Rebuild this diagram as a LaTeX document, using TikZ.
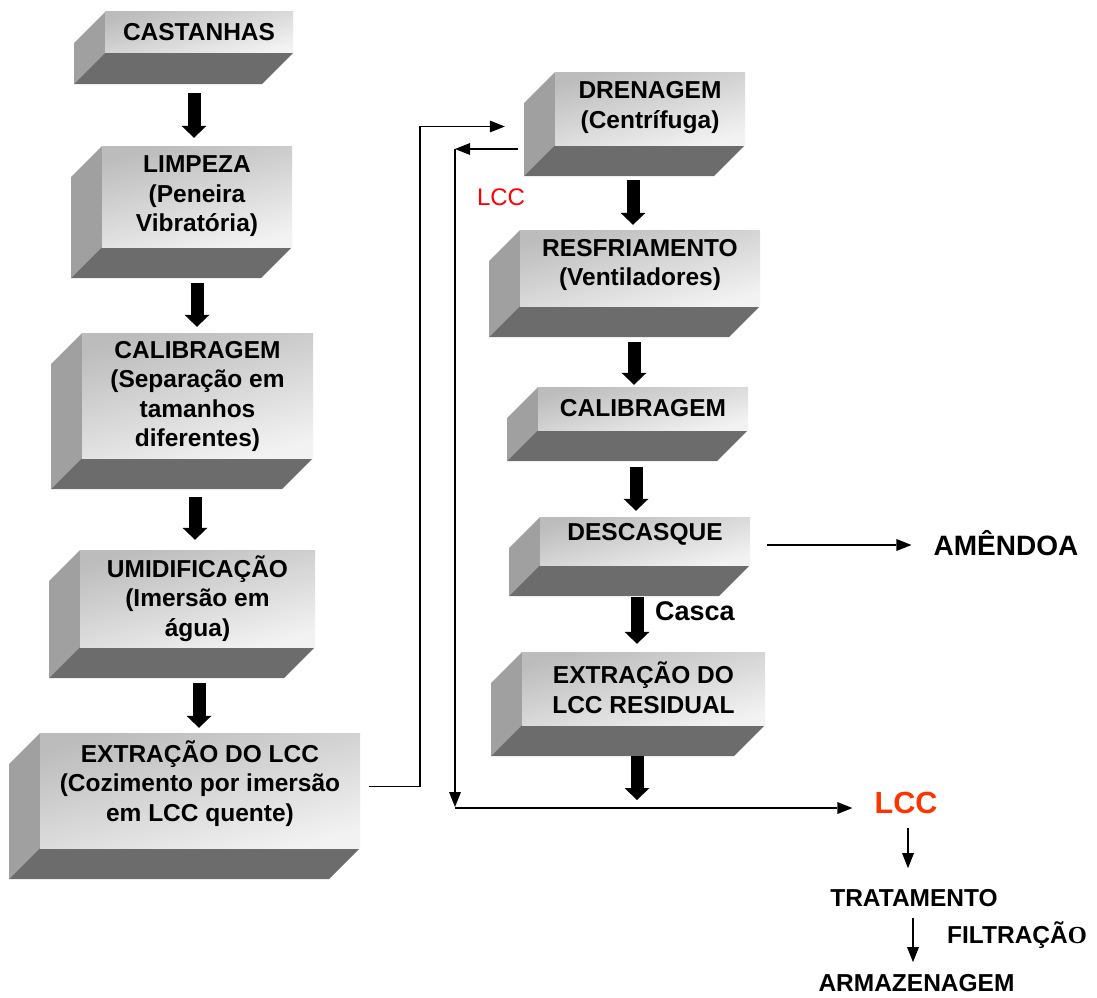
\documentclass[tikz,border=0pt]{standalone}
\usepackage{fontspec}
\setmainfont{Liberation Sans}
\newfontfamily\serifO{Liberation Serif}
\usetikzlibrary{arrows.meta,calc}
\definecolor{lccred}{RGB}{255,51,0}
\definecolor{leftgray}{RGB}{160,160,160}
\definecolor{botgray}{RGB}{108,108,108}
\definecolor{fronttop}{RGB}{188,188,188}
\definecolor{frontbot}{RGB}{242,242,242}
\tikzset{
  leftface/.style={fill=leftgray},
  botface/.style={fill=botgray},
  frontshade/.style={top color=fronttop, bottom color=frontbot, shading angle=15},
  frontbox/.style={draw=none, inner sep=0pt, rectangle},
  boxtext/.style={font=\fontsize{24.5}{29.5}\selectfont\bfseries, align=center, inner sep=0pt},
  plaintext/.style={font=\fontsize{24.5}{29.5}\selectfont\bfseries, inner sep=0pt},
  bigarrow/.style={line width=13pt, -{Triangle[width=25pt,length=12pt,line width=0pt]}},
  thinarrow/.style={line width=1.6pt, -{Triangle[width=12pt,length=15pt,line width=0pt]}},
  thinline/.style={line width=1.6pt}
}
% name, x1, y1, x2, y2, text y-offset, text
\newcommand\bevbox[7]{%
  \fill[leftface] (#2,#3) -- (#2-31,#3+31) -- (#2-31,#5+31) -- (#2,#5) -- cycle;
  \fill[botface] (#2,#5) -- (#4,#5) -- (#4-31,#5+31) -- (#2-31,#5+31) -- cycle;
  \shade[frontshade] (#2,#3) rectangle (#4,#5);
  \node[frontbox, minimum width={#4-#2}, minimum height={#5-#3}] (#1) at ({(#2+#4)/2},{(#3+#5)/2}) {};
  \node[boxtext] (#1-t) at ($(#1.center)+(0,#6)$) {#7};
}
\begin{document}
\begin{tikzpicture}[x=1pt,y=-1pt]
\useasboundingbox (0,0) rectangle (1097,998);

\bevbox{cast}{105}{12}{293}{53}{0}{CASTANHAS}
\bevbox{limp}{102}{146}{292}{247}{0}{LIMPEZA\\(Peneira\\Vibratória)}
\bevbox{calL}{82}{333}{313}{458}{1}{CALIBRAGEM\\(Separação em\\tamanhos\\diferentes)}
\bevbox{umid}{80}{550}{315}{647}{0}{UMIDIFICAÇÃO\\(Imersão em\\água)}
\bevbox{extr}{40}{733}{360}{848}{-7}{EXTRAÇÃO DO LCC\\(Cozimento por imersão\\em LCC quente)}
\bevbox{dren}{555}{72}{745}{145}{-1}{DRENAGEM\\(Centrífuga)}
\bevbox{resf}{520}{230}{760}{306}{-3}{RESFRIAMENTO\\(Ventiladores)}
\bevbox{calR}{538}{387}{748}{430}{0}{CALIBRAGEM}
\bevbox{desc}{540}{517}{750}{565}{-7}{DESCASQUE}
\bevbox{resid}{522}{652}{765}{725}{-1}{EXTRAÇÃO DO\\LCC RESIDUAL}

% text nodes
\node[font=\fontsize{24}{28}\selectfont, text=red, inner sep=0pt] (lccs) at (501,197) {LCC};
\node[font=\fontsize{30.6}{34}\selectfont\bfseries, text=lccred, inner sep=0pt] (lcc) at (906,803) {LCC};
\node[plaintext] (trat) at (914,898) {TRATAMENTO};
\node[plaintext, anchor=west] (filt) at (947,935) {FILTRAÇÃ{\serifO\bfseries O}};
\node[plaintext] (armz) at (916.5,983) {ARMAZENAGEM};
\node[font=\fontsize{28}{32}\selectfont\bfseries, inner sep=0pt] (amen) at (1006,543) {AMÊNDOA};
\node[font=\fontsize{27}{31}\selectfont\bfseries, inner sep=0pt, anchor=west] (casca) at (655,611) {Casca};

% junction coordinates
\coordinate (jtop) at (455,149);
\coordinate (jbot) at (455,808);

% thick arrows
\draw[bigarrow] ($(cast.south)+(-5,40)$) -- ($(cast.south |- limp.north)+(-5,-8)$);
\draw[bigarrow] ($(limp.south)+(0,36)$) -- ($(limp.south |- calL.north)+(0,-6)$);
\draw[bigarrow] ($(calL.south)+(-2.5,39)$) -- ($(calL.south |- umid.north)+(-2.5,-10)$);
\draw[bigarrow] ($(umid.south)+(1.5,36)$) -- ($(umid.south |- extr.north)+(1.5,-5)$);
\draw[bigarrow] ($(dren.south)+(-17,35)$) -- ($(dren.south |- resf.north)+(-17,-5)$);
\draw[bigarrow] ($(resf.south)+(-6,36)$) -- ($(resf.south |- calR.north)+(-6,-2)$);
\draw[bigarrow] ($(calR.south)+(-7,37)$) -- ($(calR.south |- desc.north)+(-7,-6)$);
\draw[bigarrow] ($(desc.south)+(-8,32)$) -- ($(desc.south |- resid.north)+(-8,-8)$);
\draw[bigarrow] ($(resid.south)+(-6.5,31)$) -- ($(resid.south |- jbot)+(-6.5,-8)$);

% thin connectors
\draw[thinarrow] ($(extr.east)+(9,-4)$) -- ++(51,0) |- ($(dren.west)+(-50,18)$);
\draw[thinarrow] ($(dren.west)+(-37,40.5)$) -- (jtop);
\draw[thinarrow] (jtop) -- ($(jbot)+(0,-1)$);
\draw[thinarrow] (jbot) -- ($(jbot -| lcc.west)+(-22,0)$);
\draw[thinarrow] ($(desc.east)+(17,4)$) -- ($(desc.east -| amen.west)+(-22,4)$);
\draw[thinarrow] ($(lcc.south)+(2,14)$) -- ($(lcc.south |- trat.north)+(2,-21)$);
\draw[thinarrow] ($(trat.south)+(-1,11)$) -- ($(trat.south |- armz.north)+(-1,-12)$);
\end{tikzpicture}
\end{document}
